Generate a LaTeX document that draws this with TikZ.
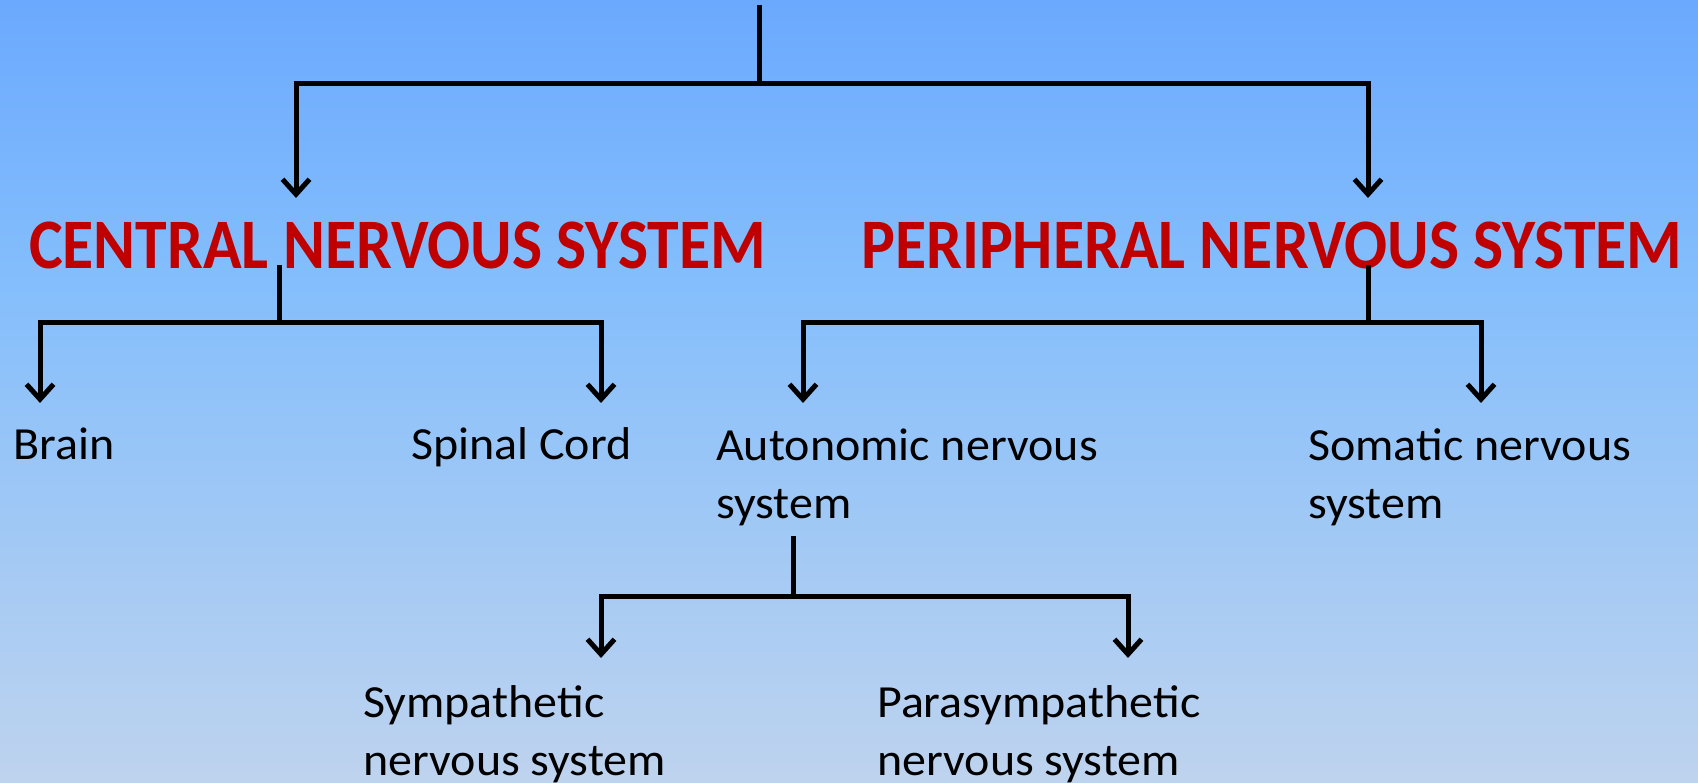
\documentclass[tikz,border=0pt]{standalone}
\usepackage{fontspec}
\setmainfont{Carlito}
\newfontfamily\titlefont[FakeStretch=0.897]{Carlito}
\newfontfamily\labelfont[FakeStretch=1.043]{Carlito}
\usetikzlibrary{arrows.meta}
\definecolor{ctop}{RGB}{107,169,254}
\definecolor{cmid}{RGB}{132,190,252}
\definecolor{cbot}{RGB}{190,211,238}
\definecolor{titlered}{RGB}{192,0,0}
\pgfdeclareverticalshading{bgshade}{100bp}{color(0bp)=(cbot); color(25bp)=(cbot); color(57bp)=(cmid); color(75bp)=(ctop); color(100bp)=(ctop)}
\tikzset{
  conn/.style={line width=5pt, black, line cap=butt, line join=miter},
  arr/.style={conn, -{Straight Barb[length=15pt,width=27pt]}},
  title/.style={font=\titlefont\fontsize{71}{80}\selectfont\bfseries, text=titlered, inner sep=0pt, anchor=base west},
  label/.style={font=\labelfont\fontsize{46}{58}\selectfont, text=black, inner sep=0pt, anchor=base west, align=left},
}
\begin{document}
\begin{tikzpicture}[x=1pt,y=-1pt]
\useasboundingbox (0,0) rectangle (1698,783);
\fill[shading=bgshade] (0,0) rectangle (1698,783);

% titles
\node[title] (cns) at (29,269) {CENTRAL NERVOUS SYSTEM};
\node[title] (pns) at (861,269) {PERIPHERAL NERVOUS SYSTEM};

% labels (base anchor = baseline of last line)
\node[label] (brain) at (13,460) {Brain};
\node[label] (spinal) at (411,460) {Spinal Cord};
\node[label] (ans) at (716,518) {Autonomic nervous\\system};
\node[label] (sns) at (1308,518) {Somatic nervous\\system};
\node[label] (symp) at (363,775) {Sympathetic\\nervous system};
\node[label] (para) at (877,775) {Parasympathetic\\nervous system};

% coordinates
\coordinate (top) at (759,5);
\coordinate (j0) at (759,84);
\coordinate (cnsIn) at (296,198);
\coordinate (pnsIn) at (1368,198);

\coordinate (cnsOut) at (279,265);
\coordinate (j1) at (279,323);
\coordinate (brainIn) at (40,403);
\coordinate (spinalIn) at (601,403);

\coordinate (pnsOut) at (1368,265);
\coordinate (j2) at (1368,323);
\coordinate (ansIn) at (803,403);
\coordinate (snsIn) at (1481,403);

\coordinate (ansOut) at (793,536);
\coordinate (j3) at (793,596);
\coordinate (sympIn) at (601,658);
\coordinate (paraIn) at (1128,658);

% connectors
\draw[conn] (top) -- (j0);
\draw[arr] (j0) -| (cnsIn);
\draw[arr] (j0) -| (pnsIn);

\draw[conn] (cnsOut) -- (j1);
\draw[arr] (j1) -| (brainIn);
\draw[arr] (j1) -| (spinalIn);

\draw[conn] (pnsOut) -- (j2);
\draw[arr] (j2) -| (ansIn);
\draw[arr] (j2) -| (snsIn);

\draw[conn] (ansOut) -- (j3);
\draw[arr] (j3) -| (sympIn);
\draw[arr] (j3) -| (paraIn);
\end{tikzpicture}
\end{document}
